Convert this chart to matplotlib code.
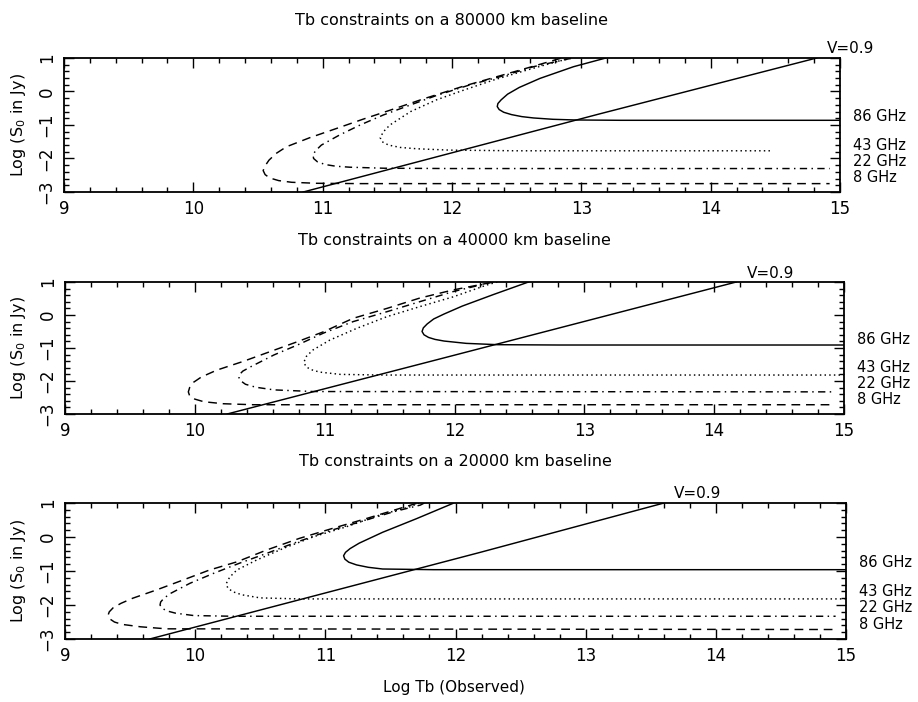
import matplotlib
matplotlib.use("Agg")
import matplotlib.pyplot as plt
from matplotlib.ticker import MultipleLocator

# ===== data (Log Tb, Log S0) =====
# --- 80000 km baseline ---
b80_86_tb = [13.19, 12.94, 12.68, 12.52, 12.43, 12.38, 12.355, 12.35, 12.365, 12.40, 12.46, 12.54, 12.63, 12.78, 12.95, 13.3, 15.0]
b80_86_s = [1.00, 0.74, 0.39, 0.12, -0.08, -0.25, -0.36, -0.45, -0.54, -0.62, -0.69, -0.75, -0.79, -0.83, -0.85, -0.86, -0.86]
b80_43_tb = [12.92, 12.81, 12.58, 12.32, 12.09, 11.88, 11.68, 11.52, 11.47, 11.445, 11.46, 11.51, 11.60, 11.73, 11.98, 12.5, 14.48]
b80_43_s = [0.99, 0.89, 0.64, 0.34, 0.04, -0.25, -0.60, -1.00, -1.20, -1.38, -1.50, -1.60, -1.67, -1.71, -1.75, -1.77, -1.77]
b80_22_tb = [12.92, 12.63, 12.40, 12.14, 11.88, 11.68, 11.47, 11.29, 11.13, 10.99, 10.95, 10.925, 10.93, 10.96, 11.02, 11.10, 11.21, 11.47, 12.0, 14.92]
b80_22_s = [0.99, 0.74, 0.47, 0.20, -0.12, -0.40, -0.70, -1.00, -1.30, -1.60, -1.75, -1.88, -2.00, -2.10, -2.18, -2.23, -2.26, -2.29, -2.30, -2.30]
b80_8_tb = [12.84, 12.68, 12.40, 12.09, 11.78, 11.52, 11.31, 11.11, 10.90, 10.72, 10.64, 10.585, 10.555, 10.54, 10.555, 10.59, 10.66, 10.76, 10.95, 11.3, 14.92]
b80_8_s = [0.99, 0.81, 0.50, 0.16, -0.22, -0.56, -0.83, -1.10, -1.38, -1.65, -1.85, -2.05, -2.22, -2.36, -2.48, -2.58, -2.66, -2.71, -2.74, -2.75, -2.75]
b80_v_tb = [10.85, 13.14, 14.82]
b80_v_s = [-3.0, -0.67, 1.0]

# --- 40000 km baseline ---
b40_86_tb = [12.57, 12.30, 12.06, 11.92, 11.84, 11.79, 11.76, 11.75, 11.765, 11.80, 11.85, 11.92, 12.09, 12.33, 12.8, 15.0]
b40_86_s = [1.00, 0.62, 0.27, 0.03, -0.12, -0.27, -0.39, -0.50, -0.60, -0.68, -0.74, -0.79, -0.86, -0.90, -0.91, -0.91]
b40_43_tb = [12.33, 12.25, 11.99, 11.73, 11.48, 11.25, 11.04, 10.91, 10.86, 10.84, 10.855, 10.89, 10.96, 11.12, 11.43, 15.0]
b40_43_s = [1.00, 0.91, 0.55, 0.25, -0.05, -0.40, -0.76, -1.06, -1.25, -1.43, -1.56, -1.65, -1.73, -1.80, -1.82, -1.82]
b40_22_tb = [12.30, 12.20, 11.99, 11.73, 11.48, 11.22, 10.99, 10.79, 10.61, 10.43, 10.37, 10.345, 10.34, 10.355, 10.39, 10.47, 10.61, 10.91, 14.92]
b40_22_s = [1.00, 0.91, 0.71, 0.40, 0.10, -0.20, -0.55, -0.91, -1.21, -1.57, -1.70, -1.80, -1.90, -2.00, -2.10, -2.19, -2.27, -2.32, -2.33]
b40_8_tb = [12.28, 12.25, 11.99, 11.73, 11.48, 11.22, 10.99, 10.79, 10.58, 10.37, 10.17, 10.05, 9.99, 9.96, 9.95, 9.96, 10.00, 10.07, 10.22, 10.45, 14.92]
b40_8_s = [1.00, 0.96, 0.76, 0.51, 0.20, -0.10, -0.51, -0.81, -1.11, -1.41, -1.67, -1.88, -2.04, -2.20, -2.33, -2.45, -2.55, -2.63, -2.69, -2.72, -2.72]
b40_v_tb = [10.25, 11.89, 14.17]
b40_v_s = [-3.0, -1.33, 1.0]

# --- 20000 km baseline ---
b20_86_tb = [11.98, 11.70, 11.44, 11.26, 11.19, 11.155, 11.14, 11.15, 11.18, 11.24, 11.33, 11.44, 11.83, 15.0]
b20_86_s = [0.99, 0.54, 0.14, -0.18, -0.34, -0.45, -0.55, -0.65, -0.74, -0.82, -0.89, -0.94, -0.96, -0.96]
b20_43_tb = [11.72, 11.65, 11.42, 11.16, 10.91, 10.68, 10.47, 10.32, 10.265, 10.24, 10.25, 10.29, 10.36, 10.50, 10.80, 15.0]
b20_43_s = [1.00, 0.89, 0.65, 0.30, 0.01, -0.33, -0.68, -0.97, -1.18, -1.36, -1.50, -1.61, -1.70, -1.79, -1.82, -1.82]
b20_22_tb = [11.76, 11.73, 11.52, 11.27, 11.01, 10.75, 10.55, 10.34, 10.14, 9.96, 9.81, 9.76, 9.735, 9.73, 9.745, 9.78, 9.85, 9.99, 10.29, 14.92]
b20_22_s = [1.00, 0.94, 0.74, 0.45, 0.16, -0.19, -0.48, -0.77, -1.07, -1.36, -1.66, -1.80, -1.91, -2.00, -2.09, -2.17, -2.24, -2.31, -2.33, -2.33]
b20_8_tb = [11.70, 11.57, 11.32, 11.06, 10.80, 10.55, 10.32, 10.11, 9.91, 9.70, 9.52, 9.43, 9.37, 9.34, 9.33, 9.345, 9.38, 9.44, 9.58, 9.78, 14.92]
b20_8_s = [0.99, 0.84, 0.55, 0.26, -0.04, -0.38, -0.73, -0.97, -1.26, -1.56, -1.80, -1.95, -2.08, -2.20, -2.31, -2.41, -2.50, -2.57, -2.64, -2.70, -2.72]
b20_v_tb = [9.65, 12.19, 13.60]
b20_v_s = [-3.0, -0.45, 1.0]

freq_labels = ["86 GHz", "43 GHz", "22 GHz", "8 GHz"]
freq_label_s = [-0.74, -1.60, -2.08, -2.56]
titles = ["Tb constraints on a 80000 km baseline",
          "Tb constraints on a 40000 km baseline",
          "Tb constraints on a 20000 km baseline"]

styles = ["-", (0, (1, 2.2)), (0, (5, 3, 1, 3)), (0, (6, 4))]

panels = [
    ([(b80_86_tb, b80_86_s), (b80_43_tb, b80_43_s), (b80_22_tb, b80_22_s), (b80_8_tb, b80_8_s)], (b80_v_tb, b80_v_s)),
    ([(b40_86_tb, b40_86_s), (b40_43_tb, b40_43_s), (b40_22_tb, b40_22_s), (b40_8_tb, b40_8_s)], (b40_v_tb, b40_v_s)),
    ([(b20_86_tb, b20_86_s), (b20_43_tb, b20_43_s), (b20_22_tb, b20_22_s), (b20_8_tb, b20_8_s)], (b20_v_tb, b20_v_s)),
]

# axes rectangles in figure fraction (left, bottom, width, height)
rects = [(0.0697, 0.7265, 0.8453, 0.1909),
         (0.0708, 0.4103, 0.8486, 0.1880),
         (0.0708, 0.0897, 0.8508, 0.1937)]
title_y = [0.9715, 0.658, 0.342]

fig = plt.figure(figsize=(9.18, 7.02), dpi=100)

for i, ((curves, vline), rect) in enumerate(zip(panels, rects)):
    ax = fig.add_axes(rect)
    for (tb, s), ls in zip(curves, styles):
        ax.plot(tb, s, color="black", linestyle=ls, linewidth=1.05)
    ax.plot(vline[0], vline[1], color="black", linewidth=1.05)

    ax.set_xlim(9, 15)
    ax.set_ylim(-3, 1)
    ax.xaxis.set_major_locator(MultipleLocator(1))
    ax.xaxis.set_minor_locator(MultipleLocator(0.2))
    ax.yaxis.set_major_locator(MultipleLocator(1))
    ax.yaxis.set_minor_locator(MultipleLocator(0.2))
    ax.tick_params(which="both", direction="in", top=True, right=True, width=1.0)
    ax.tick_params(which="major", length=7, labelsize=12)
    ax.tick_params(which="minor", length=3.5)
    ax.tick_params(axis="x", pad=6)
    ax.tick_params(axis="y", pad=6)
    for lab in ax.get_yticklabels():
        lab.set_rotation(90)
        lab.set_va("center")
    for sp in ax.spines.values():
        sp.set_linewidth(1.3)

    ax.set_ylabel("Log (S$_0$ in Jy)", fontsize=11.5)
    ax.yaxis.set_label_coords(-0.047, 0.5)

    for lab, y in zip(freq_labels, freq_label_s):
        ax.text(15.1, y, lab, fontsize=10.5, ha="left", va="center", clip_on=False)
    ax.text(vline[0][-1] + 0.08, 1.27, "V=0.9", fontsize=11, ha="left", va="center", clip_on=False)

    fig.text(rect[0] + rect[2] / 2, title_y[i], titles[i], fontsize=11.5, ha="center", va="center")

fig.text(0.495, 0.021, "Log Tb (Observed)", fontsize=11, ha="center", va="center")

fig.savefig("out.png", dpi=100)
